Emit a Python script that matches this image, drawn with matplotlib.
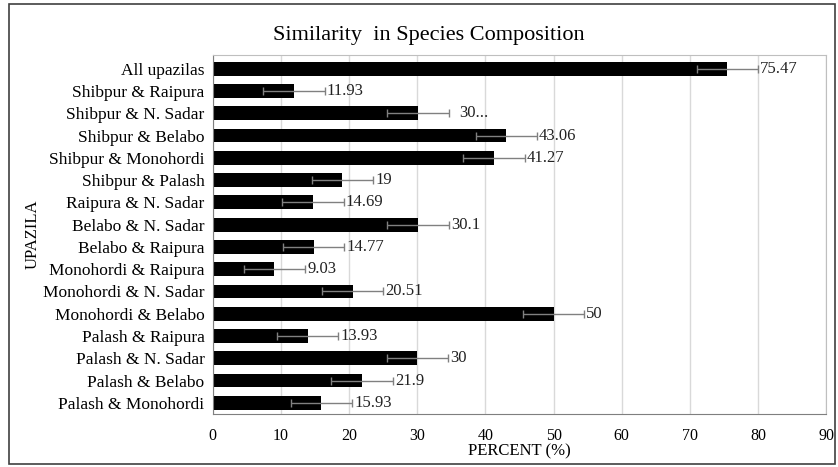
import matplotlib.pyplot as plt
from matplotlib.patches import Rectangle

plt.rcParams['font.family'] = ['Liberation Serif', 'DejaVu Serif']

# data, top to bottom as in the chart
pairs = ["All upazilas", "Shibpur & Raipura", "Shibpur & N. Sadar", "Shibpur & Belabo",
         "Shibpur & Monohordi", "Shibpur & Palash", "Raipura & N. Sadar",
         "Belabo & N. Sadar", "Belabo & Raipura", "Monohordi & Raipura",
         "Monohordi & N. Sadar", "Monohordi & Belabo", "Palash & Raipura",
         "Palash & N. Sadar", "Palash & Belabo", "Palash & Monohordi"]
percent = [75.47, 11.93, 30.1, 43.06, 41.27, 19, 14.69, 30.1, 14.77, 9.03,
           20.51, 50, 13.93, 30, 21.9, 15.93]
labels = ["75.47", "11.93", "30...", "43.06", "41.27", "19", "14.69", "30.1",
          "14.77", "9.03", "20.51", "50", "13.93", "30", "21.9", "15.93"]
err = [4.5] * len(percent)


def main():
    fig = plt.figure(figsize=(8.38, 4.67), dpi=100)
    ax = fig.add_axes([0.254, 0.1135, 0.732, 0.768])

    ypos = list(range(len(pairs)))
    ax.barh(ypos, percent, height=0.62, color="black", zorder=2,
            xerr=err, ecolor="#808080",
            error_kw=dict(elinewidth=1, capsize=3, capthick=1, zorder=3))

    for y, v, e, lab in zip(ypos, percent, err, labels):
        off = 1.6 if lab == "30..." else 0.3
        ax.text(v + e + off, y, lab, va="center", ha="left", fontsize=12,
                color="#222222")

    ax.set_yticks(ypos)
    ax.set_yticklabels(pairs, fontsize=12.5)
    ax.set_ylim(len(pairs) - 0.5, -0.6)
    ax.set_xlim(0, 90)
    ax.set_xticks(range(0, 91, 10))
    ax.tick_params(axis="x", labelsize=11.5, length=0, pad=10)
    ax.tick_params(axis="y", length=0, pad=6)
    ax.grid(axis="x", color="#d9d9d9", linewidth=1, zorder=0)
    ax.set_axisbelow(True)

    for side in ["top", "right"]:
        ax.spines[side].set_color("#bfbfbf")
    ax.spines["left"].set_color("#7f7f7f")
    ax.spines["bottom"].set_color("#7f7f7f")

    ax.set_xlabel("PERCENT (%)", fontsize=12, labelpad=0)
    ax.set_ylabel("UPAZILA", fontsize=12, labelpad=2)
    fig.text(0.512, 0.925, "Similarity  in Species Composition",
             ha="center", va="center", fontsize=16)

    fig.patches.append(Rectangle((0.011, 0.006), 0.986, 0.985,
                                 transform=fig.transFigure, fill=False,
                                 edgecolor="#404040", linewidth=1.2))

    plt.savefig("out.png", dpi=100)


if __name__ == "__main__":
    main()
